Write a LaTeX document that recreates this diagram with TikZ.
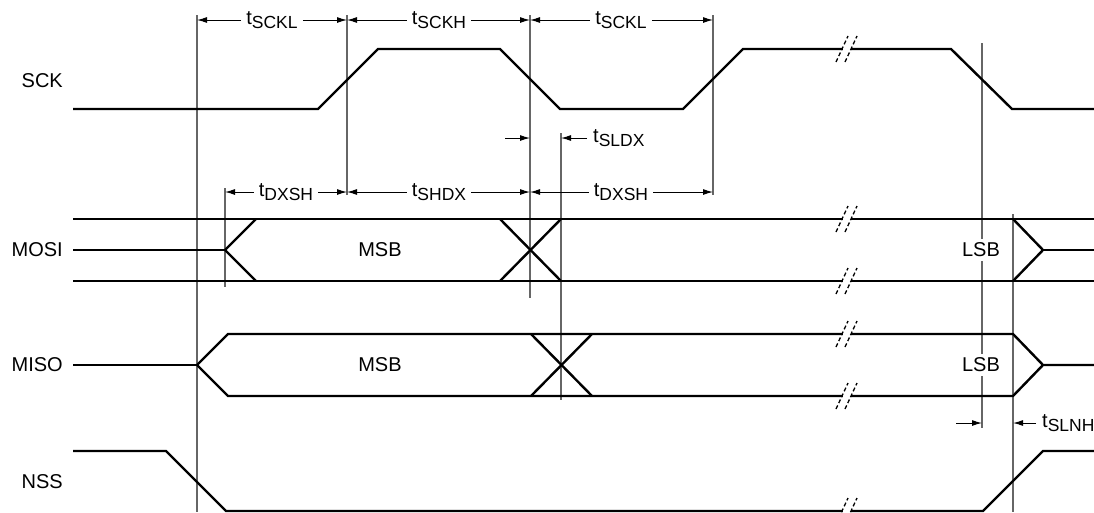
\documentclass[tikz,border=0pt]{standalone}
\usepackage{fontspec}
\setmainfont{Liberation Sans}
\usetikzlibrary{arrows.meta}
\tikzset{
  wave/.style={line width=2.4pt},
  guide/.style={line width=1.2pt, black!60},
  dimline/.style={line width=1pt, -{Latex[length=10pt,width=6pt]}},
  sig/.style={font=\fontsize{20}{22}\selectfont, anchor=east, inner sep=0pt},
  dat/.style={font=\fontsize{20}{22}\selectfont, inner sep=1pt},
  tlbl/.style={font=\fontsize{20}{22}\selectfont, inner xsep=5pt, inner ysep=1pt},
  brk/.style={line width=1.3pt, dash pattern=on 4pt off 2.5pt}
}
\newcommand{\tsub}[1]{t\raisebox{-4pt}{\fontsize{17.5}{19}\selectfont #1}}
\begin{document}
\begin{tikzpicture}[x=1pt,y=-1pt]
\useasboundingbox (0,0) rectangle (1094,512);
% timing reference lines
\coordinate (v1) at (197,0);
\coordinate (v2) at (347,0);
\coordinate (v3) at (530,0);
\coordinate (v4) at (561,0);
\coordinate (v5) at (713,0);
\coordinate (v6) at (982,0);
\coordinate (v7) at (1013,0);
\draw[guide] (197,15) -- (197,512);
\draw[guide] (347,15) -- (347,195);
\draw[guide] (530,15) -- (530,298);
\draw[guide] (561,133) -- (561,400);
\draw[guide] (713,15) -- (713,195);
\draw[guide] (982,43) -- (982,428);
\draw[guide] (1013,214) -- (1013,512);
\draw[guide] (225,188) -- (225,287);
% signal names
\node[sig] (sck) at (63,81) {SCK};
\node[sig] (mosi) at (63,250) {MOSI};
\node[sig] (miso) at (63,365) {MISO};
\node[sig] (nss) at (63,482) {NSS};
% SCK
\draw[wave] (73,109) -- (318,109) -- (378,49) -- (500,49) -- (560,109) -- (683,109)
  -- (743,49) -- (951,49) -- (1012,109) -- (1094,109);
% MOSI
\draw[wave] (73,219) -- (1094,219);
\draw[wave] (73,281) -- (1094,281);
\draw[wave] (73,250) -- (225,250);
\draw[wave] (256,219) -- (225,250) -- (256,281);
\draw[wave] (500,219) -- (561,281);
\draw[wave] (500,281) -- (561,219);
\draw[wave] (1013,219) -- (1043,250) -- (1013,281);
\draw[wave] (1043,250) -- (1094,250);
% MISO
\draw[wave] (73,365) -- (197,365);
\draw[wave] (1094,365) -- (1043,365) -- (1013,334) -- (228,334) -- (197,365)
  -- (228,396) -- (1013,396) -- (1043,365);
\draw[wave] (531,334) -- (592,396);
\draw[wave] (531,396) -- (592,334);
% NSS
\draw[wave] (73,451) -- (166,451) -- (226,511) -- (983,511) -- (1043,451) -- (1094,451);
% breaks
\foreach \y in {49,219,281,334,396,511} {
  \fill[white] (843,\y-3) rectangle (851,\y+3);
  \draw[brk] (836,\y+13) -- (848,\y-13);
  \draw[brk] (845,\y+13) -- (857,\y-13);
}
% data labels
\node[dat] (msbo) at (380,250) {MSB};
\node[dat] (msbi) at (380,365) {MSB};
\node[dat, fill=white, inner ysep=4pt] (lsbo) at (981,250) {LSB};
\node[dat, fill=white, inner ysep=4pt] (lsbi) at (981,365) {LSB};
% clock timing
\node[tlbl] (sckla) at (272,20) {\tsub{SCKL}};
\node[tlbl] (sckh) at (439,20) {\tsub{SCKH}};
\node[tlbl] (scklb) at (621,20) {\tsub{SCKL}};
\draw[dimline] (sckla) -- (sckla -| v1);
\draw[dimline] (sckla) -- (sckla -| v2);
\draw[dimline] (sckh) -- (sckh -| v2);
\draw[dimline] (sckh) -- (sckh -| v3);
\draw[dimline] (scklb) -- (scklb -| v3);
\draw[dimline] (scklb) -- (scklb -| v5);
% data timing
\coordinate (dxa) at (225,0);
\node[tlbl] (dxsha) at (286,192) {\tsub{DXSH}};
\node[tlbl] (shdx) at (439,192) {\tsub{SHDX}};
\node[tlbl] (dxshb) at (621,192) {\tsub{DXSH}};
\draw[dimline] (dxsha) -- (dxsha -| dxa);
\draw[dimline] (dxsha) -- (dxsha -| v2);
\draw[dimline] (shdx) -- (shdx -| v2);
\draw[dimline] (shdx) -- (shdx -| v3);
\draw[dimline] (dxshb) -- (dxshb -| v3);
\draw[dimline] (dxshb) -- (dxshb -| v5);
% hold timing
\coordinate (sldxl) at (505,138);
\node[tlbl, anchor=west, inner xsep=6pt] (sldx) at (587,138) {\tsub{SLDX}};
\draw[dimline] (sldxl) -- (sldxl -| v3);
\draw[dimline] (sldx) -- (sldx -| v4);
\coordinate (slnhl) at (956,423);
\node[tlbl, anchor=west, inner xsep=6pt] (slnh) at (1036,423) {\tsub{SLNH}};
\draw[dimline] (slnhl) -- (slnhl -| v6);
\draw[dimline] (slnh) -- (slnh -| v7);
\end{tikzpicture}
\end{document}
